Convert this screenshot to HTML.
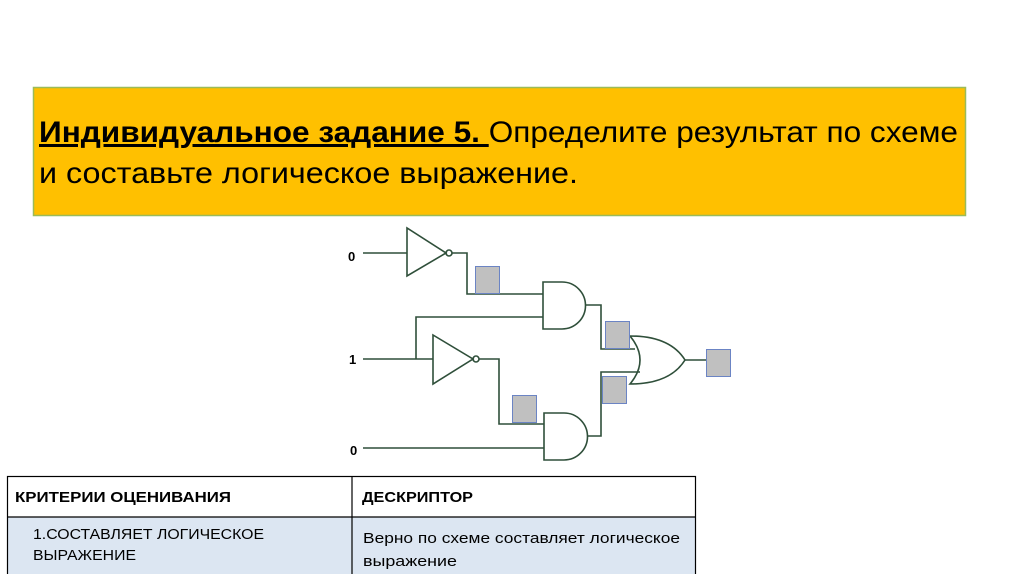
<!DOCTYPE html>
<html><head><meta charset="utf-8"><style>
html,body{margin:0;padding:0;background:#fff;}
body{width:1024px;height:574px;overflow:hidden;position:relative;font-family:"Liberation Sans",sans-serif;}
</style></head><body>
<svg width="1024" height="574" viewBox="0 0 1024 574" xmlns="http://www.w3.org/2000/svg" style="position:absolute;left:0;top:0">
<rect x="33.5" y="87.5" width="932" height="128" fill="#ffc000" stroke="#9bbb59" stroke-width="1.5"/>
<text x="39" y="142" font-family="Liberation Sans, sans-serif" font-size="30" fill="#000" textLength="919" lengthAdjust="spacingAndGlyphs"><tspan font-weight="bold" text-decoration="underline">Индивидуальное задание 5. </tspan>Определите результат по схеме</text>
<text x="39" y="183" font-family="Liberation Sans, sans-serif" font-size="30" fill="#000" textLength="539" lengthAdjust="spacingAndGlyphs">и составьте логическое выражение.</text>

<g font-family="Liberation Sans, sans-serif" font-weight="bold" font-size="13" fill="#000">
<text x="348" y="261">0</text><text x="349" y="364">1</text><text x="350" y="455">0</text>
</g>
<g fill="none" stroke="#2f4f3a" stroke-width="1.6">
<polyline points="363,253 407,253"/>
<polygon points="407,228 407,276 446,253"/>
<circle cx="449" cy="253" r="3"/>
<polyline points="452,253 467,253 467,294 543,294"/>
<polyline points="363,359 433,359"/>
<polyline points="416,359 416,317 543,317"/>
<polygon points="433,335 433,384 473,359"/>
<circle cx="476" cy="359" r="3"/>
<polyline points="479,359 499,359 499,424 544,424"/>
<polyline points="363,448 544,448"/>
<path d="M543,282 L562,282 A23.5,23.5 0 0 1 562,329 L543,329 Z"/>
<path d="M544,413 L564,413 A23.5,23.5 0 0 1 564,460 L544,460 Z"/>
<polyline points="585,305 601,305 601,349 635,349"/>
<polyline points="587,436 601,436 601,372 640,372"/>
<path d="M630,336 Q650,360 630,384 Q670,384 685,360 Q670,336 630,336 Z"/>
<polyline points="685,360 706,360"/>
</g>
<g fill="#c0c0c0" stroke="#6b84c4" stroke-width="1">
<rect x="475.5" y="266.5" width="24" height="27"/>
<rect x="512.5" y="395.5" width="24" height="27"/>
<rect x="605.5" y="321.5" width="24" height="27"/>
<rect x="602.5" y="376.5" width="24" height="27"/>
<rect x="706.5" y="349.5" width="24" height="27"/>
</g>

<rect x="7.5" y="517" width="688" height="60" fill="#dce6f2"/>
<g stroke="#000" stroke-width="1.2" fill="none">
<rect x="7.5" y="476.5" width="688" height="110"/>
<line x1="7" y1="517" x2="696" y2="517"/>
<line x1="352" y1="476" x2="352" y2="574"/>
</g>
<g font-family="Liberation Sans, sans-serif" font-size="15" fill="#000">
<text x="15" y="502" font-weight="bold" textLength="216" lengthAdjust="spacingAndGlyphs">КРИТЕРИИ ОЦЕНИВАНИЯ</text>
<text x="362" y="502" font-weight="bold" textLength="111" lengthAdjust="spacingAndGlyphs">ДЕСКРИПТОР</text>
<text x="33" y="539" textLength="231" lengthAdjust="spacingAndGlyphs">1.СОСТАВЛЯЕТ ЛОГИЧЕСКОЕ</text>
<text x="33" y="560" textLength="103" lengthAdjust="spacingAndGlyphs">ВЫРАЖЕНИЕ</text>
<text x="363" y="543" textLength="317" lengthAdjust="spacingAndGlyphs">Верно по схеме составляет логическое</text>
<text x="363" y="566" textLength="94" lengthAdjust="spacingAndGlyphs">выражение</text>
</g>
</svg>
</body></html>
